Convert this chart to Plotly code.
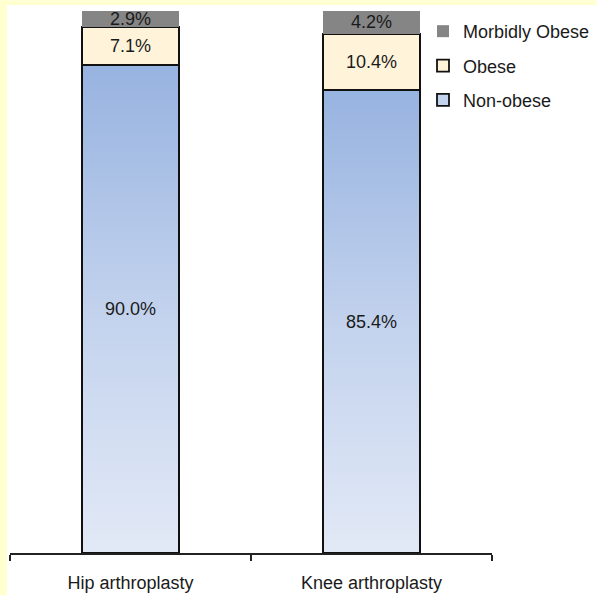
import plotly.graph_objects as go

# Share of patients by BMI class for each procedure (percent)
categories = ["Hip arthroplasty", "Knee arthroplasty"]
non_obese = [90.0, 85.4]
obese = [7.1, 10.4]
morbidly_obese = [2.9, 4.2]

# Figure geometry (pixels)
W, H = 605, 603
ML, MR, MT, MB = 10, 106, 11, 43
PW, PH = W - ML - MR, H - MT - MB
BAR_W = 0.4

FONT = "Liberation Sans, Arial, Helvetica, sans-serif"
TEXT_C = "#1a1a1a"
YELLOW = "#FFFFCF"
GRAY = "#858585"
CREAM = "#FFF4DA"
BLUE_SCALE = [[0.0, "#E2E9F6"], [0.5, "#C2D2ED"], [1.0, "#97B3E0"]]


def px_x(p):
    return (p - ML) / PW


def px_y(p):
    return (H - MB - p) / PH


def pct(vals):
    return [f"{v:.1f}%" for v in vals]


fig = go.Figure()

# Gradient fill for the non-obese segment, drawn on the base axes underneath the bars
for i, v in enumerate(non_obese):
    x0, x1 = i - BAR_W / 2, i + BAR_W / 2
    fig.add_trace(go.Scatter(
        x=[x0, x1, x1, x0, x0], y=[0, 0, v, v, 0],
        mode="lines", fill="toself",
        fillgradient=dict(type="vertical", colorscale=BLUE_SCALE),
        line=dict(width=0), hoverinfo="skip", showlegend=False,
        xaxis="x", yaxis="y",
    ))

common = dict(
    x=categories, width=BAR_W, xaxis="x2", yaxis="y2",
    textposition="inside", insidetextanchor="middle", constraintext="none",
    textfont=dict(family=FONT, size=18, color=TEXT_C),
)

fig.add_trace(go.Bar(
    y=non_obese, text=pct(non_obese), name="Non-obese",
    marker=dict(color="rgba(0,0,0,0)", line=dict(color="#111", width=1.8)),
    showlegend=False, **common,
))
fig.add_trace(go.Bar(
    y=obese, text=pct(obese), name="Obese", legendrank=2, legendgroup="o",
    marker=dict(color=CREAM, line=dict(color="#111", width=1.8)),
    **common,
))
fig.add_trace(go.Bar(
    y=morbidly_obese, text=pct(morbidly_obese), name="Morbidly Obese",
    legendrank=1, legendgroup="m",
    marker=dict(color=GRAY, line=dict(color=GRAY, width=0)),
    **common,
))
# Legend entry for the gradient segment
fig.add_trace(go.Bar(
    x=[None], y=[None], name="Non-obese", legendrank=3, legendgroup="n",
    marker=dict(color="#C3D3EE", line=dict(color="#111", width=1.8)),
    xaxis="x2", yaxis="y2",
))

shapes = [
    # pale yellow strips along the top and left edges
    dict(type="rect", xref="paper", yref="paper", layer="below",
         x0=px_x(0), x1=px_x(7), y0=px_y(H), y1=px_y(0),
         fillcolor=YELLOW, line=dict(width=0)),
    dict(type="rect", xref="paper", yref="paper", layer="below",
         x0=px_x(0), x1=px_x(W), y0=px_y(5), y1=px_y(0),
         fillcolor=YELLOW, line=dict(width=0)),
]

fig.update_layout(
    width=W, height=H,
    margin=dict(l=ML, r=MR, t=MT, b=MB, pad=0),
    paper_bgcolor="white", plot_bgcolor="white",
    barmode="stack",
    font=dict(family=FONT, size=18, color=TEXT_C),
    shapes=shapes,
    xaxis=dict(range=[-0.5, 1.5], visible=False, fixedrange=True),
    yaxis=dict(range=[0, 100], visible=False, fixedrange=True),
    xaxis2=dict(
        type="category", overlaying="x", anchor="y2", side="bottom",
        range=[-0.5, 1.5], showline=True, linecolor="#222", linewidth=1.5,
        ticks="outside", tickson="boundaries", ticklen=6, tickwidth=1.5,
        tickcolor="#222", showgrid=False, zeroline=False,
        tickfont=dict(family=FONT, size=18, color=TEXT_C),
        ticklabelstandoff=13,
    ),
    yaxis2=dict(overlaying="y", range=[0, 100], visible=False),
    legend=dict(
        x=px_x(429), y=px_y(13), xanchor="left", yanchor="top",
        traceorder="grouped", tracegroupgap=8,
        font=dict(family=FONT, size=18, color=TEXT_C),
        bgcolor="rgba(0,0,0,0)", borderwidth=0,
    ),
    showlegend=True,
)

fig.write_html("out.html")
